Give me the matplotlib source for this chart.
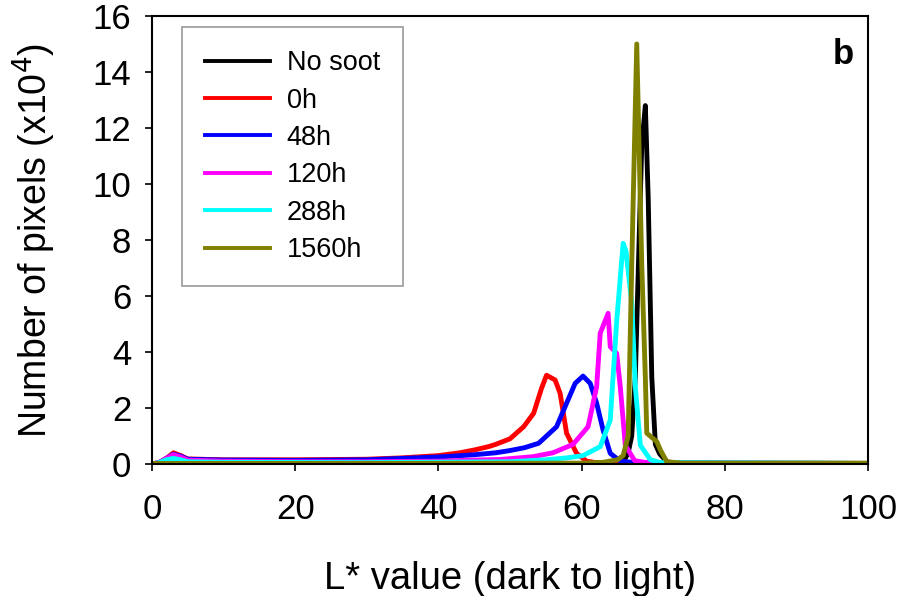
import matplotlib
matplotlib.use('Agg')
import matplotlib.pyplot as plt

plt.rcParams['font.family'] = ['Liberation Sans', 'DejaVu Sans']

labels = ['No soot', '0h', '48h', '120h', '288h', '1560h']
colors = ['black', 'red', 'blue', 'magenta', 'cyan', '#808000']

# L* value / pixel counts (x10^4)
x_nosoot = [0, 30, 60, 64, 66, 66.5, 67.0, 67.5, 68.4, 68.9, 69.3, 69.8, 70.3, 70.9, 71.9, 73, 100]
y_nosoot = [0.02, 0.02, 0.02, 0.04, 0.15, 0.4, 1.0, 3.1, 11.4, 12.8, 9.5, 3.1, 0.7, 0.36, 0.08, 0.03, 0.02]

x_0h = [0, 1, 2, 3, 4, 5, 10, 20, 30, 35, 40, 43, 45, 47, 48, 50, 51.9, 53.3, 54.4, 55.1,
        56.3, 57.0, 57.9, 59.3, 60.7, 62, 65, 100]
y_0h = [0.0, 0.05, 0.2, 0.4, 0.3, 0.18, 0.15, 0.15, 0.17, 0.22, 0.3, 0.4, 0.5, 0.62, 0.7, 0.9,
        1.33, 1.81, 2.7, 3.17, 3.0, 2.52, 1.1, 0.38, 0.1, 0.05, 0.02, 0.01]

x_48h = [0, 1, 2, 3, 4, 5, 10, 20, 30, 40, 45, 48, 50, 52, 54, 56.5, 57.9, 59.1, 60.2,
         61.2, 62.1, 63.0, 64.0, 65.4, 68, 100]
y_48h = [0.0, 0.05, 0.2, 0.35, 0.28, 0.17, 0.14, 0.13, 0.15, 0.25, 0.33, 0.4, 0.48, 0.58, 0.74,
         1.33, 2.17, 2.88, 3.14, 2.88, 2.17, 1.21, 0.38, 0.1, 0.04, 0.02]

x_120h = [0, 1, 2, 3, 4, 5, 10, 20, 30, 40, 45, 48.6, 53.2, 56, 58.8, 60.9, 62.1, 62.6,
          63.7, 64.0, 64.9, 65.4, 66.1, 67.4, 69, 72, 100]
y_120h = [0.0, 0.05, 0.2, 0.33, 0.25, 0.14, 0.1, 0.08, 0.08, 0.1, 0.14, 0.16, 0.26, 0.4, 0.7,
          1.33, 2.76, 4.67, 5.38, 4.19, 3.95, 2.76, 0.67, 0.12, 0.05, 0.02, 0.02]

x_288h = [0, 1, 2, 3, 4, 5, 10, 30, 50, 55, 58, 60.2, 62.6, 64.0, 64.9, 65.8, 66.2, 67.0,
          67.5, 68.2, 69.6, 71, 100]
y_288h = [0.0, 0.05, 0.15, 0.2, 0.15, 0.08, 0.06, 0.05, 0.08, 0.15, 0.22, 0.3, 0.62, 1.57, 5.1,
          7.88, 7.6, 5.75, 2.76, 0.67, 0.15, 0.05, 0.02]

x_1560h = [0, 30, 60, 63, 65, 65.8, 66.5, 67.0, 67.7, 68.4, 68.9, 69.1, 69.8, 70.5, 71.0,
           71.9, 74, 100]
y_1560h = [0.02, 0.02, 0.03, 0.06, 0.15, 0.3, 1.0, 7.1, 15.0, 7.1, 3.1, 1.1, 0.95, 0.8, 0.5,
           0.08, 0.03, 0.03]

xs = [x_nosoot, x_0h, x_48h, x_120h, x_288h, x_1560h]
ys = [y_nosoot, y_0h, y_48h, y_120h, y_288h, y_1560h]

fig = plt.figure(figsize=(9.01, 5.96), dpi=100)
ax = fig.add_axes([0.1687, 0.2215, 0.7947, 0.7517])

for x, y, c, lab in zip(xs, ys, colors, labels):
    ax.plot(x, y, color=c, linewidth=3.5, label=lab, solid_joinstyle='round')

ax.set_xlim(0, 100)
ax.set_ylim(0, 16)
ax.set_xticks([0, 20, 40, 60, 80, 100])
ax.set_yticks([0, 2, 4, 6, 8, 10, 12, 14, 16])
ax.tick_params(direction='out', length=5, width=1.2, labelsize=25, colors='black')
ax.tick_params(axis='x', pad=16)
ax.tick_params(axis='y', pad=10)
for s in ax.spines.values():
    s.set_linewidth(1.5)

ax.set_xlabel('L* value (dark to light)', fontsize=27.5, labelpad=25)
ax.set_ylabel('Number of pixels (x10$^{4}$)', fontsize=27, labelpad=25)

ax.text(0.965, 0.913, 'b', transform=ax.transAxes, fontsize=25, fontweight='bold',
        ha='center', va='center')

leg = ax.legend(loc='upper left', bbox_to_anchor=(0.0415, 0.975), borderaxespad=0,
                fontsize=19.5, frameon=True, fancybox=False, edgecolor='gray',
                handlelength=2.4, handletextpad=0.62, labelspacing=0.42,
                borderpad=0.85)
leg.get_frame().set_linewidth(1.2)
for h in leg.get_lines():
    h.set_linewidth(2.8)

fig.savefig('out.png', dpi=100)
